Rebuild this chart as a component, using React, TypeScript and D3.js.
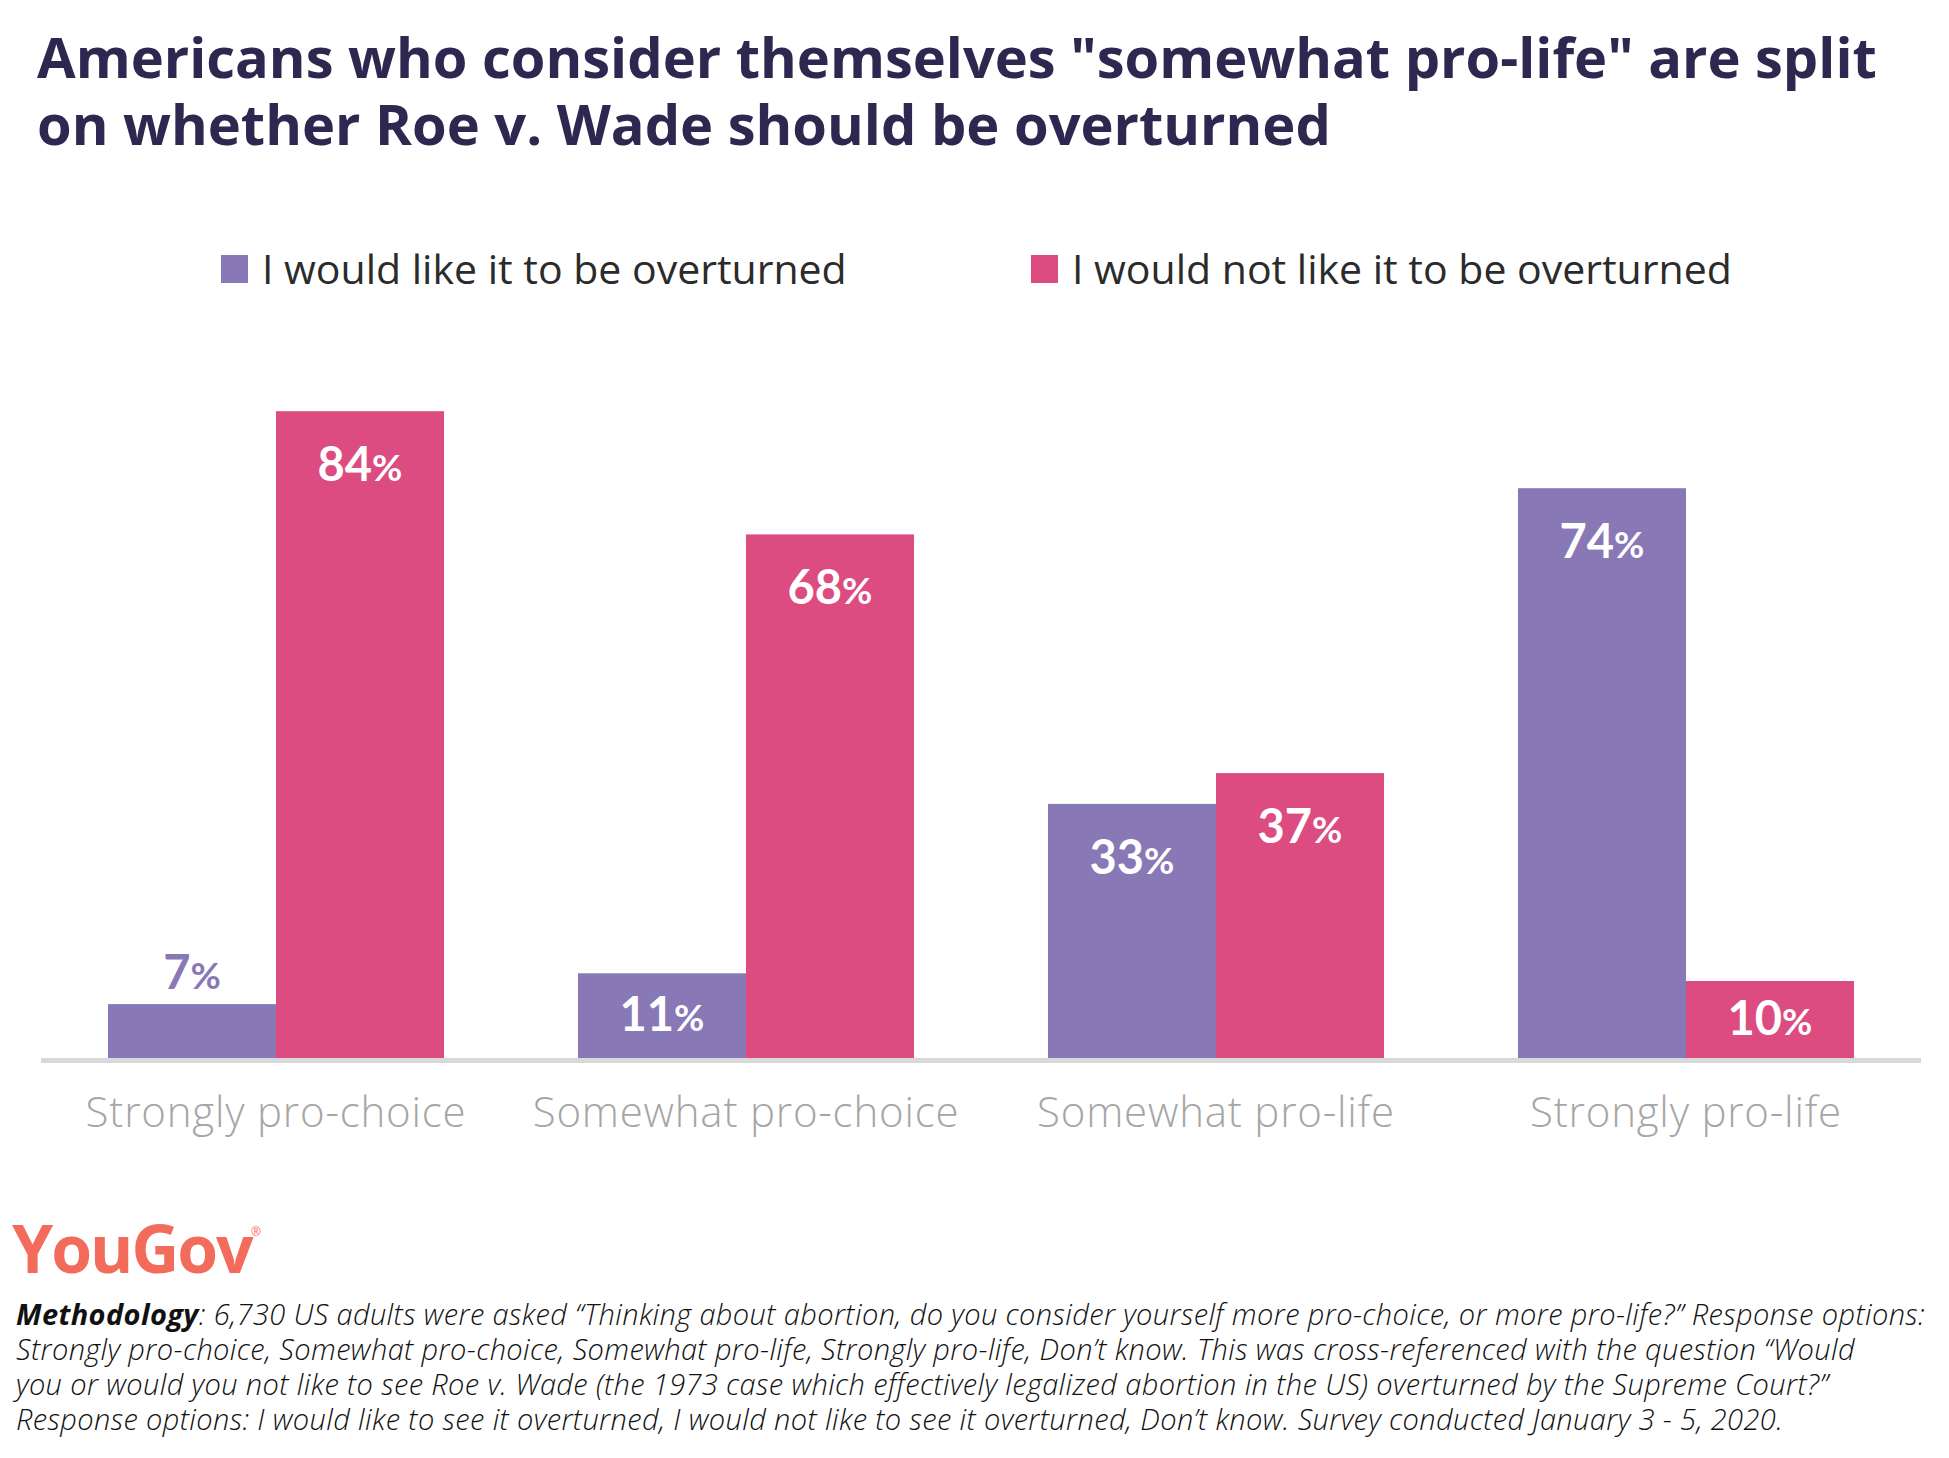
import React from "react";
import * as d3 from "d3";

const categories = ["Strongly pro-choice", "Somewhat pro-choice", "Somewhat pro-life", "Strongly pro-life"];
const seriesNames = ["I would like it to be overturned", "I would not like it to be overturned"];
const overturned = [7, 11, 33, 74];
const notOverturned = [84, 68, 37, 10];
const seriesColors = ["#8878b6", "#dc4c80"];
const titleLines = [
  "Americans who consider themselves \"somewhat pro-life\" are split",
  "on whether Roe v. Wade should be overturned",
];
const methodologyLines = [
  ": 6,730 US adults were asked “Thinking about abortion, do you consider yourself more pro-choice, or more pro-life?” Response options:",
  "Strongly pro-choice, Somewhat pro-choice, Somewhat pro-life, Strongly pro-life, Don’t know. This was cross-referenced with the question “Would",
  "you or would you not like to see Roe v. Wade (the 1973 case which effectively legalized abortion in the US) overturned by the Supreme Court?”",
  "Response options: I would like to see it overturned, I would not like to see it overturned, Don’t know. Survey conducted January 3 - 5, 2020.",
];

const W = 1949;
const H = 1458;
const FONT = "'Open Sans', Lato, sans-serif";
const NUMFONT = "Lato, 'Open Sans', sans-serif";

export default function App() {
  const x0 = d3.scaleBand<string>().domain(categories).range([41, 1921]).paddingInner(0.285).paddingOuter(0.1425);
  const x1 = d3.scaleBand<number>().domain([0, 1]).range([0, x0.bandwidth()]);
  const y = d3.scaleLinear().domain([0, 100]).range([1058, 288]);
  const series = [overturned, notOverturned];

  const bars: React.ReactNode[] = [];
  categories.forEach((c, i) => {
    series.forEach((vals, s) => {
      const v = vals[i];
      const bx = (x0(c) as number) + (x1(s) as number);
      const bw = x1.bandwidth();
      const top = y(v);
      const h = y(0) - top;
      let ly: number;
      let fill = "#ffffff";
      if (h < 60) {
        ly = top - 15;
        fill = seriesColors[s];
      } else if (h < 140) {
        ly = top + h / 2 + 15;
      } else {
        ly = top + 70;
      }
      bars.push(
        <g key={`${i}-${s}`}>
          <rect x={bx} y={top} width={bw} height={h} fill={seriesColors[s]} />
          <text x={bx + bw / 2} y={ly} textAnchor="middle" fill={fill} fontFamily={NUMFONT} fontWeight={700} fontSize={47}>
            {v}
            <tspan fontSize={37}>%</tspan>
          </text>
        </g>
      );
    });
  });

  return (
    <svg width={W} height={H} style={{ position: "absolute", left: 0, top: 0 }} xmlns="http://www.w3.org/2000/svg">
      <rect width={W} height={H} fill="#ffffff" />
      <text fontFamily={FONT} fontWeight={700} fontSize={56} fill="#2e2750">
        {titleLines.map((t, i) => (
          <tspan key={i} x={37} y={78 + i * 67}>
            {t}
          </tspan>
        ))}
      </text>
      {seriesNames.map((n, i) => {
        const lx = [221, 1031][i];
        return (
          <g key={n}>
            <rect x={lx} y={255} width={27} height={28} fill={seriesColors[i]} />
            <text x={lx + 41} y={284} fontFamily={FONT} fontSize={41} fill="#2b2b2b">
              {n}
            </text>
          </g>
        );
      })}
      {bars}
      <line x1={41} x2={1921} y1={1060.5} y2={1060.5} stroke="#d9d9d9" strokeWidth={5} />
      {categories.map((c) => (
        <text key={c} x={(x0(c) as number) + x0.bandwidth() / 2} y={1127} textAnchor="middle" fontFamily={FONT} fontWeight={300} fontSize={42} letterSpacing={0.8} fill="#a6a6a6">
          {c}
        </text>
      ))}
      <text x={12} y={1273} fontFamily={FONT} fontWeight={700} fontSize={66} fill="#f26b5b" letterSpacing={-2}>
        YouGov
      </text>
      <text x={251} y={1236} fontFamily={FONT} fontSize={12} fill="#f26b5b">®</text>
      <text fontFamily={FONT} fontStyle="italic" fontWeight={300} fontSize={29} letterSpacing={0.38} fill="#111111">
        {methodologyLines.map((t, i) => (
          <tspan key={i} x={16} y={1325 + i * 35}>
            {i === 0 ? <tspan fontWeight={700}>Methodology</tspan> : null}
            {t}
          </tspan>
        ))}
      </text>
    </svg>
  );
}
